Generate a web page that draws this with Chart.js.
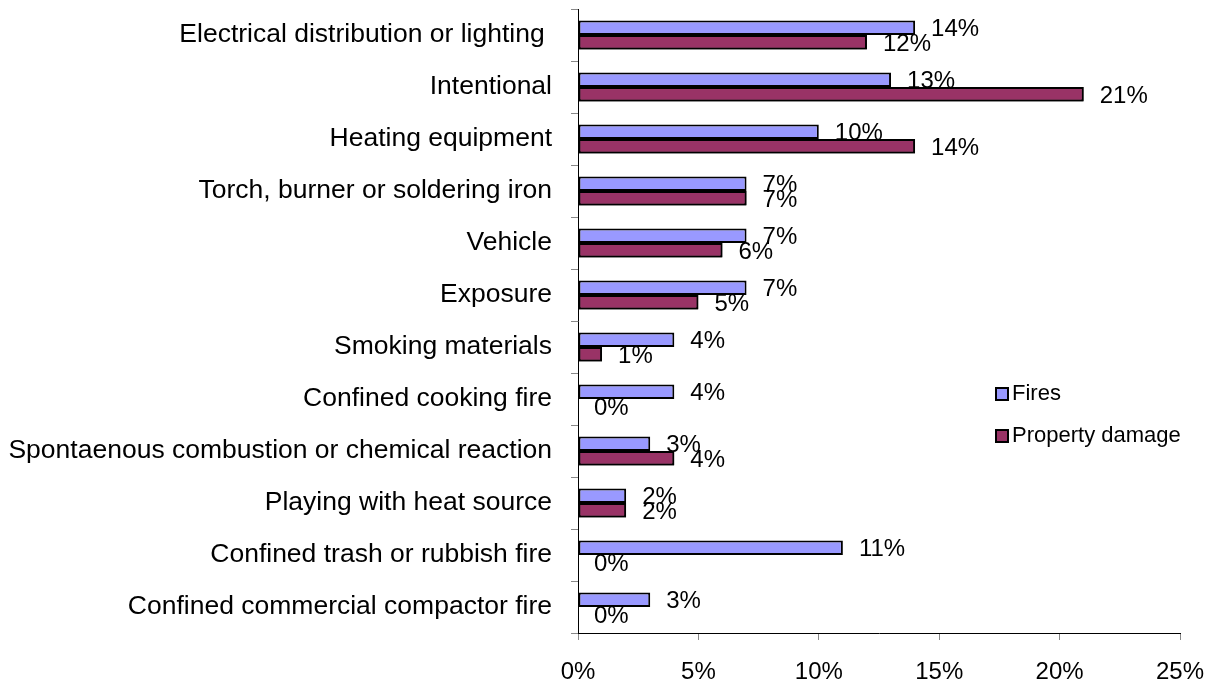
<!DOCTYPE html>
<html>
<head>
<meta charset="utf-8">
<script src="https://cdn.jsdelivr.net/npm/chart.js@4/dist/chart.umd.min.js"></script>
<style>
  body { margin: 0; background: #fff; }
</style>
</head>
<body>
<canvas id="myChart" width="1214" height="683"></canvas>
<script>
const categories = [
  "Electrical distribution or lighting ",
  "Intentional",
  "Heating equipment",
  "Torch, burner or soldering iron",
  "Vehicle",
  "Exposure",
  "Smoking materials",
  "Confined cooking fire",
  "Spontaenous combustion or chemical reaction",
  "Playing with heat source",
  "Confined trash or rubbish fire",
  "Confined commercial compactor fire"
];
const seriesNames = ["Fires", "Property damage"];
const firesPct = [14, 13, 10, 7, 7, 7, 4, 4, 3, 2, 11, 3];
const damagePct = [12, 21, 14, 7, 6, 5, 1, 0, 4, 2, 0, 0];
const xTicks = [0, 5, 10, 15, 20, 25];
const prettyColors = ["#9999FF", "#993366"];

const FONT = '"Liberation Sans", Arial, sans-serif';

// chart.js pads the plot for half-labels; the excel original does not
const noPad = scale => {
  scale.paddingTop = 0;
  scale.paddingBottom = 0;
  scale.paddingLeft = 0;
  scale.paddingRight = 0;
};

const barLabels = {
  id: 'barLabels',
  afterDatasetsDraw(chart) {
    const ctx = chart.ctx;
    const fires = chart.getDatasetMeta(0);
    const damage = chart.getDatasetMeta(1);
    ctx.save();
    ctx.font = '24px ' + FONT;
    ctx.textAlign = 'left';
    ctx.textBaseline = 'middle';
    ctx.fillStyle = '#000';
    fires.data.forEach((bar, i) => ctx.fillText(firesPct[i] + '%', bar.x + 16, bar.y + 2));
    // excel paints the second series over the first series' labels
    damage.data.forEach(bar => bar.draw(ctx));
    ctx.font = '24px ' + FONT;
    ctx.textAlign = 'left';
    ctx.textBaseline = 'middle';
    ctx.fillStyle = '#000';
    damage.data.forEach((bar, i) => ctx.fillText(damagePct[i] + '%', bar.x + 16, bar.y + 2));

    // legend
    const lx = 996, ly = [394, 436];
    ctx.font = '22px ' + FONT;
    seriesNames.forEach((name, i) => {
      ctx.fillStyle = prettyColors[i];
      ctx.fillRect(lx, ly[i] - 6, 12, 12);
      ctx.lineWidth = 2;
      ctx.strokeStyle = '#000';
      ctx.strokeRect(lx, ly[i] - 6, 12, 12);
      ctx.fillStyle = '#000';
      ctx.fillText(name, lx + 16, ly[i]);
    });
    ctx.restore();
  }
};

const myChartRef = document.getElementById("myChart").getContext("2d");
new Chart(myChartRef, {
  type: "bar",
  data: {
    labels: categories,
    datasets: [
      {
        label: seriesNames[0],
        data: firesPct,
        backgroundColor: prettyColors[0],
        borderColor: "#000",
        borderWidth: 2,
        borderSkipped: false
      },
      {
        label: seriesNames[1],
        data: damagePct,
        backgroundColor: prettyColors[1],
        borderColor: "#000",
        borderWidth: 2,
        borderSkipped: false
      }
    ]
  },
  options: {
    indexAxis: 'y',
    responsive: false,
    animation: false,
    categoryPercentage: 0.56,
    barPercentage: 1,
    layout: { padding: { top: 9, right: 34, left: 0, bottom: 0 } },
    plugins: {
      legend: { display: false },
      tooltip: { enabled: false }
    },
    scales: {
      x: {
        min: xTicks[0],
        max: xTicks[xTicks.length - 1],
        afterBuildTicks: scale => { scale.ticks = xTicks.map(v => ({ value: v })); },
        afterFit: scale => { scale.height = 50; noPad(scale); },
        ticks: {
          callback: v => v + '%',
          color: '#000',
          font: { size: 24, family: FONT },
          padding: 18,
          maxRotation: 0
        },
        grid: { drawOnChartArea: false, tickLength: 7, color: '#888' },
        border: { color: '#000', width: 1 }
      },
      y: {
        afterFit: scale => { scale.width = 578; noPad(scale); },
        ticks: {
          color: '#000',
          font: { size: 26.5, family: FONT },
          padding: 19,
          autoSkip: false
        },
        grid: { drawOnChartArea: false, tickLength: 7, color: '#888', offset: true },
        border: { color: '#000', width: 1 }
      }
    }
  },
  plugins: [barLabels]
});
</script>
</body>
</html>
